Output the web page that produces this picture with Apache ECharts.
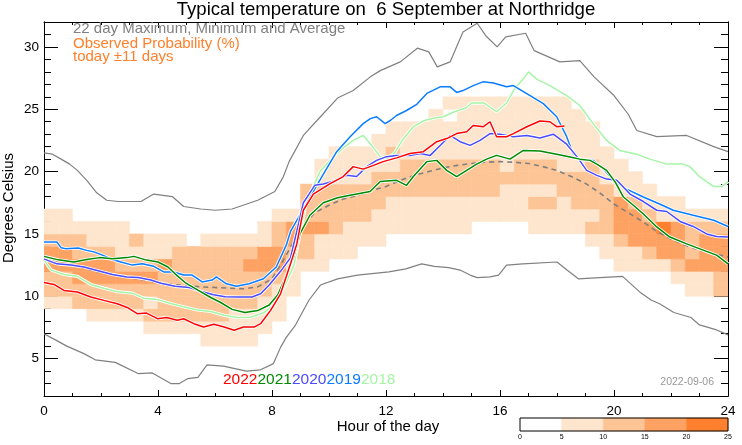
<!DOCTYPE html>
<html><head><meta charset="utf-8">
<script src="https://cdn.jsdelivr.net/npm/echarts@6/dist/echarts.min.js"></script>
<style>html,body{margin:0;padding:0;background:#fff}#c{width:742px;height:445px}</style>
</head><body><div id="c"></div>
<script>
// ---------------- data ----------------
// Observed probability class per cell: 48 half-hour columns (0h..23.5h),
// each character = class for 1 degree cells starting at 5,6,...,27 C
// class 0: <5%, 1: 5-10%, 2: 10-15%, 3: 15-20%, 4: 20-25%
const binHours = 0.5;
const binDeg = 1;
const tempBase = 5;
const probClass = [
  "00001223321100000000000","00001223321100000000000","00002233221000000000000","00012233211000000000000",
  "00012233211000000000000","00012232111000000000000","00012232120000000000000","00121232110000000000000",
  "00122223110000000000000","00122222210000000000000","00122222200000000000000","01122222210000000000000",
  "01122222210000000000000","01112222210000000000000","01112223210000000000000","00111223311000000000000",
  "00011123322100000000000","00000111233100000000000","00000001223222000000000","00000001113222110000000",
  "00000000112222111000000","00000000111222111000000","00000000011222111000000","00000000011122211100000",
  "00000000001112212110000","00000000001112221110000","00000000001112221110000","00000000001112221111000",
  "00000000001112221110100","00000000001112221111100","00000000000112221111100","00000000000112221111100",
  "00000000000111211111100","00000000000111221111100","00000000001121221111100","00000000001121221111100",
  "00000000001112211111100","00000000001122211111000","00000000012122221110000","00000000112222111000000",
  "00000001123331110000000","00000001133321100000000","00000001233211000000000","00000001334110000000000",
  "00000012333110000000000","00000113222100000000000","00000113332100000000000","00000223332100000000000"
];
const classPct = [0, 7.5, 12.5, 17.5, 22.5];
const legendEdges = [0, 5, 10, 15, 20, 25];

const maxLine = [[0,21.5],[0.3,21.4],[0.6,21.0],[0.9,20.6],[1.17,20.1],[1.5,19.3],[1.85,18.3],[2.2,17.7],[2.6,17.6],[3.4,17.6],[3.85,18.2],[4.5,18.0],[4.9,17.2],[5.5,17.0],[6.0,16.9],[6.6,17.0],[7.5,17.7],[8.1,18.4],[8.4,19.6],[8.6,20.8],[9.1,22.9],[9.7,24.4],[10.3,25.9],[10.85,26.5],[11.45,27.6],[11.8,28.1],[12.5,28.8],[13.1,29.9],[13.5,29.6],[13.8,28.4],[14.25,28.8],[14.7,31.2],[15.2,31.9],[15.5,30.9],[15.9,30.0],[16.2,30.8],[16.9,31.1],[17.2,29.7],[18.1,28.8],[18.8,28.9],[19.3,27.6],[20.0,26.1],[20.5,24.6],[20.8,23.3],[21.5,22.8],[22.55,22.9],[23.5,22.0],[24,21.6]];
const minLine = [[0,7.0],[0.4,6.5],[0.8,6.0],[1.4,5.4],[1.8,4.9],[2.5,4.7],[3.3,3.8],[3.8,3.85],[4.45,3.0],[4.75,3.0],[5.05,3.4],[5.4,3.5],[5.72,4.5],[6.3,4.4],[7.1,4.0],[7.6,4.1],[8.05,4.6],[8.3,5.9],[8.5,6.7],[8.8,7.6],[9.3,9.7],[9.7,10.9],[10.3,11.4],[11.0,11.7],[12.1,11.95],[12.7,12.2],[13.25,12.6],[13.7,12.4],[14.2,12.3],[14.6,12.1],[14.95,11.7],[15.2,11.5],[15.65,11.55],[15.95,11.7],[16.23,12.5],[16.8,12.6],[18.0,12.75],[18.35,12.1],[18.75,11.4],[19.5,11.5],[20.3,11.6],[20.9,10.35],[21.3,9.7],[21.6,9.4],[22.1,8.7],[22.7,8.3],[23.0,7.7],[23.6,7.3],[24,6.9]];
const meanLine = [[0,13.0],[0.5,12.7],[1,12.5],[1.5,12.2],[2,11.9],[2.5,11.7],[3,11.5],[3.5,11.3],[4,11.1],[4.5,10.95],[5,10.85],[5.5,10.75],[6,10.7],[6.5,10.65],[7,10.6],[7.5,10.75],[8,11.4],[8.5,13.3],[9,15.4],[9.5,16.7],[10,17.3],[10.5,17.8],[11,18.1],[11.5,18.5],[12,18.8],[12.5,19.3],[13,19.7],[13.5,20.0],[14,20.3],[14.5,20.5],[15,20.65],[15.5,20.75],[16,20.8],[16.5,20.75],[17,20.65],[17.5,20.4],[18,20.1],[18.5,19.6],[19,19.05],[19.5,18.3],[20,17.4],[20.5,16.7],[21,16.0],[21.5,15.2],[22,14.6],[22.5,14.1],[23,13.7],[23.5,13.4],[24,13.15]];

const y2018 = [[0,12.9],[0.25,12.1],[0.7,11.75],[1.17,11.6],[1.64,10.95],[2.1,10.65],[2.57,10.37],[3.1,10.25],[3.5,9.85],[3.96,9.75],[4.44,9.42],[4.9,9.16],[5.38,8.9],[5.85,8.78],[6.32,8.47],[6.78,8.3],[7.25,8.32],[7.72,8.7],[8.07,9.3],[8.42,10.7],[8.77,12.5],[9.0,15.2],[9.2,17.5],[9.68,20.0],[10.04,20.9],[10.5,21.9],[10.85,22.5],[11.2,22.9],[11.5,22.1],[11.79,21.2],[12.05,21.0],[12.3,21.5],[12.6,22.6],[12.96,23.6],[13.35,24.1],[13.7,24.3],[14.01,24.4],[14.4,24.8],[14.8,25.1],[15.0,25.5],[15.45,25.5],[15.88,24.8],[16.23,25.5],[16.5,26.6],[16.8,27.4],[17.0,28.0],[17.3,27.4],[17.75,26.9],[18.34,26.1],[18.8,25.3],[19.27,23.85],[19.74,22.5],[20.2,21.7],[20.8,21.4],[21.26,21.0],[21.85,20.6],[22.43,20.6],[22.66,20.4],[23.0,19.6],[23.5,18.8],[23.8,18.8],[24,19.2]];
const y2019 = [[0,14.35],[0.45,14.35],[0.6,13.9],[0.75,13.82],[1.2,13.87],[1.5,13.68],[1.75,13.56],[2.05,13.3],[2.4,12.95],[2.7,12.75],[3.1,12.5],[3.45,12.6],[3.85,12.4],[4.2,11.95],[4.55,11.95],[4.9,11.7],[5.2,11.7],[5.55,11.15],[5.9,11.3],[6.05,11.55],[6.4,11.0],[6.75,10.8],[7.2,11.0],[7.7,11.4],[8.15,12.35],[8.5,14.1],[8.65,15.2],[9.1,17.0],[9.7,19.4],[10.27,21.6],[10.74,22.8],[11.2,23.85],[11.45,24.25],[11.67,24.4],[11.97,23.85],[12.15,24.1],[12.37,24.5],[12.72,24.9],[13.08,25.4],[13.45,26.3],[13.9,26.8],[14.25,26.8],[14.48,26.35],[14.7,26.5],[15.06,26.9],[15.4,27.2],[15.77,27.1],[16.23,26.8],[16.47,26.9],[16.94,26.25],[17.52,25.45],[17.99,24.4],[18.34,22.8],[18.57,21.4],[18.8,21.0],[19.27,20.9],[19.63,20.2],[19.98,19.3],[20.44,18.6],[21.03,17.96],[21.6,17.4],[22.08,16.9],[22.78,16.5],[23.5,16.1],[24,15.6]];
const y2020 = [[0,13.0],[0.45,12.6],[0.95,12.5],[1.4,12.35],[1.9,12.05],[2.4,11.75],[2.9,11.55],[3.3,11.5],[3.75,11.3],[4.1,11.05],[4.6,10.8],[5.1,10.7],[5.5,10.4],[5.95,10.12],[6.35,9.97],[6.85,9.94],[7.3,9.94],[7.6,10.2],[7.9,10.9],[8.3,12.0],[8.65,13.1],[8.9,15.5],[9.1,17.5],[9.3,18.2],[9.5,18.9],[9.8,19.0],[10.27,19.3],[10.62,19.7],[10.97,19.6],[11.32,20.4],[11.67,20.9],[12.02,21.2],[12.37,21.3],[12.84,21.3],[13.2,21.45],[13.55,21.3],[13.9,22.1],[14.25,22.9],[14.6,22.4],[14.95,22.1],[15.3,22.5],[15.65,23.05],[16.0,23.0],[16.47,22.8],[16.94,22.9],[17.4,22.7],[17.87,23.0],[18.34,22.2],[18.7,21.2],[19.04,20.1],[19.4,19.7],[19.74,19.4],[20.1,19.3],[20.56,18.2],[21.03,17.6],[21.5,16.9],[21.85,16.8],[22.32,16.0],[22.78,15.6],[23.25,15.0],[23.6,14.8],[24,14.75]];
const y2021 = [[0,13.2],[0.5,12.92],[1.05,12.75],[1.5,12.95],[1.95,13.1],[2.4,13.0],[2.9,13.1],[3.15,13.2],[3.6,12.9],[4.0,12.75],[4.35,12.35],[4.6,11.8],[4.95,11.1],[5.4,10.5],[5.85,9.9],[6.2,9.5],[6.6,8.95],[7.05,8.7],[7.5,8.85],[7.9,9.3],[8.2,10.1],[8.45,11.4],[8.77,13.2],[8.98,15.0],[9.33,16.5],[9.8,17.5],[10.3,17.9],[10.74,18.1],[10.97,18.2],[11.44,18.4],[11.8,19.2],[12.37,19.3],[12.72,18.9],[12.96,19.6],[13.43,20.8],[13.78,20.9],[14.13,20.1],[14.48,19.6],[14.83,20.1],[15.18,20.6],[15.53,21.0],[15.88,21.3],[16.35,21.0],[16.82,21.7],[17.4,21.65],[17.99,21.4],[18.46,21.17],[18.8,21.0],[19.16,20.9],[19.4,20.6],[19.74,20.1],[20.04,19.17],[20.33,17.96],[20.68,17.3],[21.03,16.6],[21.5,15.56],[21.96,14.75],[22.55,14.2],[23.13,13.7],[23.6,13.3],[24,12.6]];
const y2022 = [[0,11.1],[0.35,10.95],[0.7,10.47],[1.17,10.34],[1.64,9.94],[2.1,9.67],[2.57,9.4],[2.92,9.1],[3.27,8.6],[3.6,8.65],[3.98,8.2],[4.3,8.3],[4.68,8.07],[4.9,8.2],[5.26,7.8],[5.6,7.53],[5.96,7.75],[6.32,7.53],[6.67,7.27],[7.0,7.53],[7.37,7.53],[7.6,7.8],[7.95,8.87],[8.3,10.2],[8.65,12.6],[8.87,14.2],[9.1,16.9],[9.45,18.2],[10.04,19.04],[10.5,19.6],[10.85,20.4],[11.2,20.2],[11.56,20.5],[11.9,20.8],[12.37,21.1],[12.84,21.45],[13.31,21.6],[13.78,22.4],[14.13,22.65],[14.48,23.05],[14.83,23.2],[15.06,23.7],[15.42,23.6],[15.65,24.0],[15.88,22.8],[16.23,22.8],[16.47,23.05],[16.94,23.6],[17.4,24.06],[17.75,24.0],[17.99,23.6],[18.26,23.66]];

const yearNames = ['2022','2021','2020','2019','2018'];
const yearColors = {'2022':'#ff0000','2021':'#008a00','2020':'#4a4aff','2019':'#0a7cff','2018':'#a6f5a6'};
const yearData = {'2022':y2022,'2021':y2021,'2020':y2020,'2019':y2019,'2018':y2018};
const yMajor = [5,10,15,20,25,30];

// ---------------- styles ----------------
const FONT = '"Liberation Sans", Arial, Helvetica, sans-serif';
const classColors = ['#ffffff','#fee6ce','#fdc496','#fda263','#fd802e'];
function colorOf(pct){ return classColors[Math.min(4, Math.floor(pct/5))]; }

const heatData = [];
probClass.forEach((col, c) => {
  for (let i = 0; i < col.length; i++) {
    const k = +col[i];
    if (k > 0) heatData.push([c * binHours, tempBase + i, classPct[k]]);
  }
});
const legendData = legendEdges.slice(0, -1).map((e, i) => [e, legendEdges[i+1], (e + legendEdges[i+1]) / 2]);

const chart = echarts.init(document.getElementById('c'));
const black = {color:'#000', width:1};

function lineS(data, color, width, type, z){
  return {type:'line', data, xAxisIndex:0, yAxisIndex:0, showSymbol:false, symbol:'none',
    silent:true, animation:false, z, lineStyle:{color, width, type}};
}
const series = [
  {type:'custom', xAxisIndex:0, yAxisIndex:0, data:heatData, z:1, animation:false, silent:true, clip:true,
   renderItem(params, api){
     const h = api.value(0), t = api.value(1);
     const a = api.coord([h, t + binDeg]), b = api.coord([h + binHours, t]);
     const col = colorOf(api.value(2));
     return {type:'rect', shape:{x:a[0], y:a[1], width:b[0]-a[0], height:b[1]-a[1]},
       style:{fill:col, stroke:col, lineWidth:0.6}};
   }},
  lineS(maxLine, '#808080', 1.2, 'solid', 3),
  lineS(minLine, '#808080', 1.2, 'solid', 3),
  lineS(meanLine, '#808080', 1.6, [5,4], 3),
];
['2018','2019','2020','2021','2022'].forEach((y, i) => {
  series.push(lineS(yearData[y], '#ffffff', 3.2, 'solid', 4 + i*2));
  series.push(lineS(yearData[y], yearColors[y], 1.5, 'solid', 5 + i*2));
});
series.push({type:'custom', xAxisIndex:2, yAxisIndex:4, data:legendData, z:2, animation:false, silent:true,
  renderItem(params, api){
    const a = api.coord([api.value(0), 1]), b = api.coord([api.value(1), 0]);
    const col = colorOf(api.value(2));
    return {type:'rect', shape:{x:a[0], y:a[1], width:b[0]-a[0], height:b[1]-a[1]},
      style:{fill:col, stroke:col, lineWidth:0.5}};
  }});

const xBase = {type:'value', min:0, max:24, interval:4, gridIndex:0,
  axisLine:{show:true, onZero:false, lineStyle:black},
  axisTick:{show:true, inside:true, length:6, lineStyle:black},
  minorTick:{show:true, splitNumber:4, length:3, lineStyle:black},
  splitLine:{show:false}, minorSplitLine:{show:false}};
const yMinor = {type:'value', min:2, max:32, interval:1, gridIndex:0,
  axisLine:{show:true, onZero:false, lineStyle:black},
  axisTick:{show:true, inside:true, length:7, lineStyle:black},
  axisLabel:{show:false}, splitLine:{show:false}};
const yMaj = {type:'value', min:2, max:32, gridIndex:0,
  axisLine:{show:true, onZero:false, lineStyle:black},
  axisTick:{show:true, inside:true, length:14, lineStyle:black, customValues:yMajor},
  splitLine:{show:false}};

const option = {
  animation:false,
  backgroundColor:'#ffffff',
  grid:[
    {left:44, right:14, top:22, bottom:49, containLabel:false},
    {left:520, width:208, top:418, height:13, show:true, borderColor:'#000', borderWidth:1, backgroundColor:'transparent', z:5}
  ],
  xAxis:[
    Object.assign({}, xBase, {position:'bottom',
      axisLabel:{show:true, color:'#000', fontSize:13.5, fontFamily:FONT, margin:8}}),
    Object.assign({}, xBase, {position:'top', axisLabel:{show:false}}),
    {type:'value', gridIndex:1, min:0, max:25, interval:5, axisLine:{show:false}, axisTick:{show:false},
     splitLine:{show:false}, axisLabel:{show:true, color:'#000', fontSize:7, fontFamily:FONT, margin:3}}
  ],
  yAxis:[
    Object.assign({}, yMinor, {position:'left'}),
    Object.assign({}, yMaj, {position:'left',
      axisLabel:{show:true, color:'#000', fontSize:13.5, fontFamily:FONT, margin:5, customValues:yMajor}}),
    Object.assign({}, yMinor, {position:'right'}),
    Object.assign({}, yMaj, {position:'right', axisLabel:{show:false}}),
    {type:'value', gridIndex:1, min:0, max:1, show:false}
  ],
  series,
  graphic:[
    {type:'text', x:386, y:10, style:{text:'Typical temperature on  6 September at Northridge', font:'18.6px '+FONT, fill:'#000', textAlign:'center', textVerticalAlign:'middle'}},
    {type:'text', x:73, y:29, z:20, style:{text:'22 day Maximum, Minimum and Average', font:'15px '+FONT, fill:'#808080', textAlign:'left', textVerticalAlign:'middle'}},
    {type:'text', x:73, y:43.5, z:20, style:{text:'Observed Probability (%)', font:'15px '+FONT, fill:'#ff7f2a', textAlign:'left', textVerticalAlign:'middle'}},
    {type:'text', x:73, y:56.5, z:20, style:{text:'today \u00b111 days', font:'15px '+FONT, fill:'#ff7f2a', textAlign:'left', textVerticalAlign:'middle'}},
    {type:'text', x:9, y:208, rotation:Math.PI/2, style:{text:'Degrees Celsius', font:'15px '+FONT, fill:'#000', textAlign:'center', textVerticalAlign:'middle'}},
    {type:'text', x:388, y:427, style:{text:'Hour of the day', font:'15px '+FONT, fill:'#000', textAlign:'center', textVerticalAlign:'middle'}},
    {type:'text', x:714, y:382, z:20, style:{text:'2022-09-06', font:'10.5px '+FONT, fill:'#999999', textAlign:'right', textVerticalAlign:'middle'}},
    {type:'text', x:223, y:380, z:20, style:{
      text: yearNames.map((y, i) => '{y' + i + '|' + y + '}').join(''),
      font:'15.5px '+FONT, textAlign:'left', textVerticalAlign:'middle',
      rich: Object.fromEntries(yearNames.map((y, i) => ['y' + i, {fill:yearColors[y], font:'15.5px '+FONT}]))
    }}
  ]
};
chart.setOption(option);
</script>
</body></html>
